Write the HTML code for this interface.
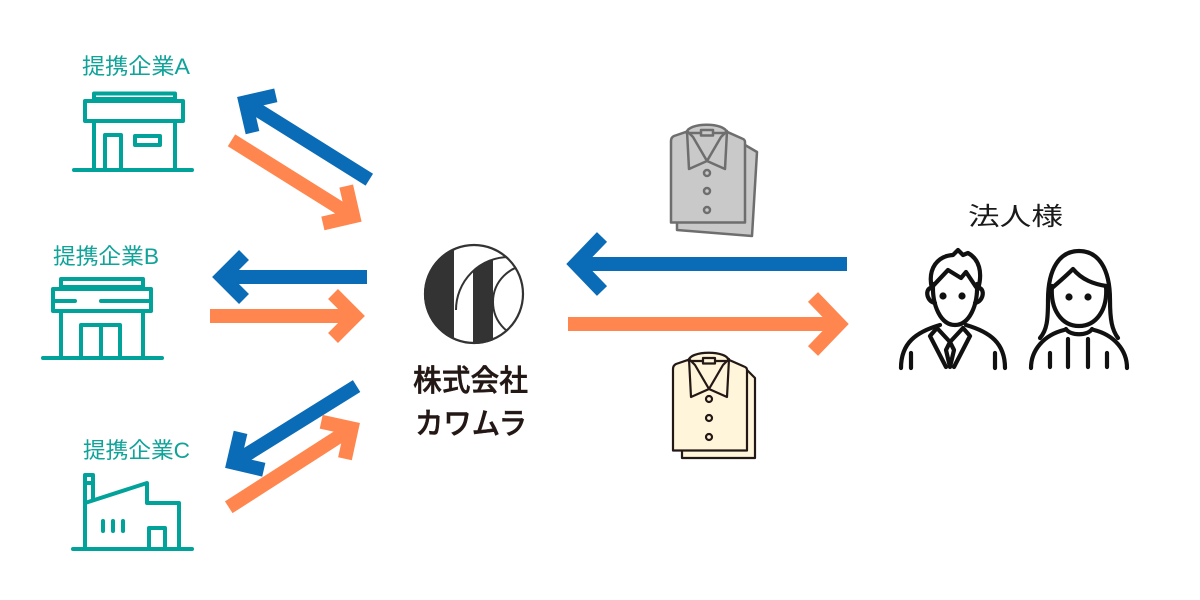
<!DOCTYPE html>
<html>
<head>
<meta charset="utf-8">
<style>
  html,body{margin:0;padding:0;background:#fff;}
  body{width:1200px;height:600px;overflow:hidden;}
  svg{display:block;}
  .lbl{font-family:"Liberation Sans","Noto Sans CJK JP",sans-serif;}
</style>
</head>
<body>
<svg width="1200" height="600" viewBox="0 0 1200 600" xmlns="http://www.w3.org/2000/svg">
  <rect width="1200" height="600" fill="#fff"/>

  <!-- Labels -->
  <g class="lbl" fill="#0fa399" font-size="22">
    <text x="136" y="74" text-anchor="middle" textLength="108" lengthAdjust="spacingAndGlyphs">提携企業A</text>
    <text x="106" y="264" text-anchor="middle" textLength="106" lengthAdjust="spacingAndGlyphs">提携企業B</text>
    <text x="136.5" y="458" text-anchor="middle" textLength="107" lengthAdjust="spacingAndGlyphs">提携企業C</text>
  </g>

  <!-- Icon A: shop -->
  <g fill="none" stroke="#00a29a" stroke-width="4" stroke-linejoin="round" stroke-linecap="round">
    <rect x="94" y="93.5" width="81" height="5.5"/>
    <rect x="85" y="101" width="98" height="20"/>
    <line x1="94" y1="121" x2="94" y2="168"/>
    <line x1="175" y1="121" x2="175" y2="168"/>
    <path d="M105,168 V135 H121 V168"/>
    <rect x="135" y="136" width="25" height="9"/>
    <line x1="74" y1="170" x2="192" y2="170"/>
  </g>

  <!-- Icon B: store -->
  <g fill="none" stroke="#00a29a" stroke-width="4" stroke-linejoin="round" stroke-linecap="round">
    <rect x="61" y="279" width="82" height="8"/>
    <rect x="53" y="289" width="98" height="22"/>
    <path d="M53,301 H75 M101,301 H151"/>
    <line x1="61" y1="311" x2="61" y2="357"/>
    <line x1="143" y1="311" x2="143" y2="357"/>
    <path d="M81,357 V325 H120 V357 M101,325 V357"/>
    <line x1="43" y1="358" x2="162" y2="358"/>
  </g>

  <!-- Icon C: factory -->
  <g fill="none" stroke="#00a29a" stroke-width="4" stroke-linejoin="round" stroke-linecap="round">
    <rect x="85" y="475" width="8" height="8"/>
    <line x1="93" y1="483" x2="93" y2="499"/>
    <line x1="85" y1="483" x2="85" y2="548"/>
    <path d="M85,503 L147,483 V503 H179 V548"/>
    <path d="M149,548 V528 H165 V548"/>
    <path d="M103,521 V531 M113,521 V531 M123,521 V531"/>
    <line x1="73" y1="549" x2="192" y2="549"/>
  </g>

  <!-- Arrows (local: vertex at origin, pointing -x) -->
  <g fill="none" stroke-width="14" stroke-linejoin="miter" stroke-miterlimit="10" stroke-linecap="butt">
    <!-- A -->
    <g transform="translate(245.5,102.3) rotate(32)" stroke="#0a6bb6">
      <path d="M0,0 H146"/>
      <path d="M22,-22 L0,0 L22,22"/>
    </g>
    <g transform="translate(353.2,216.4) rotate(212)" stroke="#ff864e">
      <path d="M0,0 H143.5"/>
      <path d="M22,-22 L0,0 L22,22"/>
    </g>
    <!-- B -->
    <g transform="translate(222,277)" stroke="#0a6bb6">
      <path d="M0,0 H145"/>
      <path d="M22,-22 L0,0 L22,22"/>
    </g>
    <g transform="translate(355,316) rotate(180)" stroke="#ff864e">
      <path d="M0,0 H145"/>
      <path d="M22,-22 L0,0 L22,22"/>
    </g>
    <!-- C -->
    <g transform="translate(233.5,462.7) rotate(-31.9)" stroke="#0a6bb6">
      <path d="M0,0 H145"/>
      <path d="M22,-22 L0,0 L22,22"/>
    </g>
    <g transform="translate(351.6,428.4) rotate(147.3)" stroke="#ff864e">
      <path d="M0,0 H146"/>
      <path d="M22,-22 L0,0 L22,22"/>
    </g>
    <!-- Middle -->
    <g transform="translate(576,264)" stroke="#0a6bb6">
      <path d="M0,0 H271"/>
      <path d="M26,-27 L0,0 L26,27"/>
    </g>
    <g transform="translate(839,324) rotate(180)" stroke="#ff864e">
      <path d="M0,0 H271"/>
      <path d="M26,-27 L0,0 L26,27"/>
    </g>
  </g>

  <!-- Logo -->
  <defs>
    <clipPath id="lc"><circle cx="474" cy="294" r="50"/></clipPath>
    <clipPath id="bar"><circle cx="509" cy="310" r="53"/></clipPath>
  </defs>
  <g clip-path="url(#lc)">
    <rect x="420" y="240" width="34" height="110" fill="#333"/>
    <g clip-path="url(#bar)">
      <rect x="473" y="240" width="20" height="110" fill="#333"/>
    </g>
    <path d="M456,310 A53,53 0 0 1 562,310" fill="none" stroke="#333" stroke-width="2"/>
    <circle cx="530" cy="302" r="37" fill="none" stroke="#333" stroke-width="2"/>
  </g>
  <circle cx="474" cy="294" r="49" fill="none" stroke="#333" stroke-width="2.2"/>

  <g class="lbl" fill="#231815" stroke="#231815" stroke-width="0.5" font-size="30" font-weight="500">
    <text x="470.5" y="391" text-anchor="middle" textLength="115" lengthAdjust="spacingAndGlyphs">株式会社</text>
    <text x="471" y="434" text-anchor="middle" textLength="112" lengthAdjust="spacingAndGlyphs">カワムラ</text>
  </g>

  <!-- Gray shirt -->
  <g stroke="#6e6e6e" stroke-width="2.5" stroke-linejoin="round" fill="#c9c9c9">
    <path d="M690,146 L745,145 L757,152 L752,236 L677,230 L677,215 Z"/>
    <path d="M686.7,131.7 L674,136 Q671,137.5 671,141 L671,222.5 L745,222.5 L745,142 Q745,139.5 742,138.5 L726.7,131.7 Z"/>
    <path d="M686.7,133 C686.7,122 726.7,122 726.7,133 Z"/>
    <path d="M687,131 L689,169 L707,161 L693,137 Z"/>
    <path d="M727,131 L725,169 L707,161 L721,137 Z"/>
    <rect x="701" y="130" width="12" height="5.5"/>
    <circle cx="707" cy="173" r="3"/>
    <circle cx="707" cy="191" r="3"/>
    <circle cx="707" cy="210" r="3"/>
  </g>

  <!-- Cream shirt -->
  <g transform="translate(2,228)" stroke="#231815" stroke-width="2.2" stroke-linejoin="round" fill="#fff5da">
    <path d="M690,147 L745,142 L753,150 L753,230 L680,230 L680,215 Z"/>
    <path d="M686.7,131.7 L674,136 Q671,137.5 671,141 L671,222.5 L745,222.5 L745,142 Q745,139.5 742,138.5 L726.7,131.7 Z"/>
    <path d="M686.7,133 C686.7,122 726.7,122 726.7,133 Z"/>
    <path d="M687,131 L689,169 L707,161 L693,137 Z"/>
    <path d="M727,131 L725,169 L707,161 L721,137 Z"/>
    <rect x="701" y="130" width="12" height="5.5"/>
    <circle cx="707" cy="171" r="3"/>
    <circle cx="707" cy="190" r="3"/>
    <circle cx="707" cy="209" r="3"/>
  </g>

  <!-- 法人様 -->
  <text class="lbl" x="1015.5" y="225" text-anchor="middle" font-size="25" fill="#1a1a1a" textLength="95" lengthAdjust="spacingAndGlyphs">法人様</text>

  <!-- Man -->
  <g fill="none" stroke="#111" stroke-width="4.2" stroke-linecap="round" stroke-linejoin="round">
    <path d="M933,284 C932,306 941,325 955,325 C969,325 978,306 977,284"/>
    <path d="M933,288 C925,286 925,301 935,303"/>
    <path d="M977,288 C985,286 985,301 975,303"/>
    <path d="M932,289 C927,268 938,256 953,255 L958,250 L963,255 L968,253 C979,259 983,272 978,289"/>
    <path d="M932,287 L948,270 L961,278 L966,272 L976,287"/>
    <path d="M937,328 L950,342 L963,328"/>
    <path d="M950,342 L946,350 L950,367 L954,350 Z"/>
    <path d="M937,328 L930,336 L946,367"/>
    <path d="M963,328 L970,336 L954,367"/>
    <path d="M940,325 C916,332 901,343 901,368"/>
    <path d="M966,325 C990,332 1005,343 1005,368"/>
    <path d="M911,353 V368 M995,353 V368"/>
  </g>
  <circle cx="943" cy="296" r="3.6" fill="#111"/>
  <circle cx="962" cy="296" r="3.6" fill="#111"/>

  <!-- Woman -->
  <g fill="none" stroke="#111" stroke-width="4.2" stroke-linecap="round" stroke-linejoin="round">
    <path d="M1040,338 C1047,330 1048,320 1048,300 C1048,268 1060,251 1079,251 C1098,251 1110,268 1110,300 C1110,320 1112,330 1118,338"/>
    <path d="M1052,286 C1050,310 1062,326 1079,326 C1096,326 1108,310 1106,286"/>
    <path d="M1052,288 C1059,282 1066,276 1073,269 C1082,280 1094,284 1106,286"/>
    <path d="M1066,329 C1070,336 1088,336 1092,329"/>
    <path d="M1064,330 C1044,335 1031,350 1031,368"/>
    <path d="M1094,330 C1114,335 1127,350 1127,368"/>
    <path d="M1050,353 V367 M1068,339 V367 M1088,339 V367 M1107,353 V367"/>
  </g>
  <circle cx="1069" cy="297" r="3.6" fill="#111"/>
  <circle cx="1088" cy="297" r="3.6" fill="#111"/>
</svg>
</body>
</html>
